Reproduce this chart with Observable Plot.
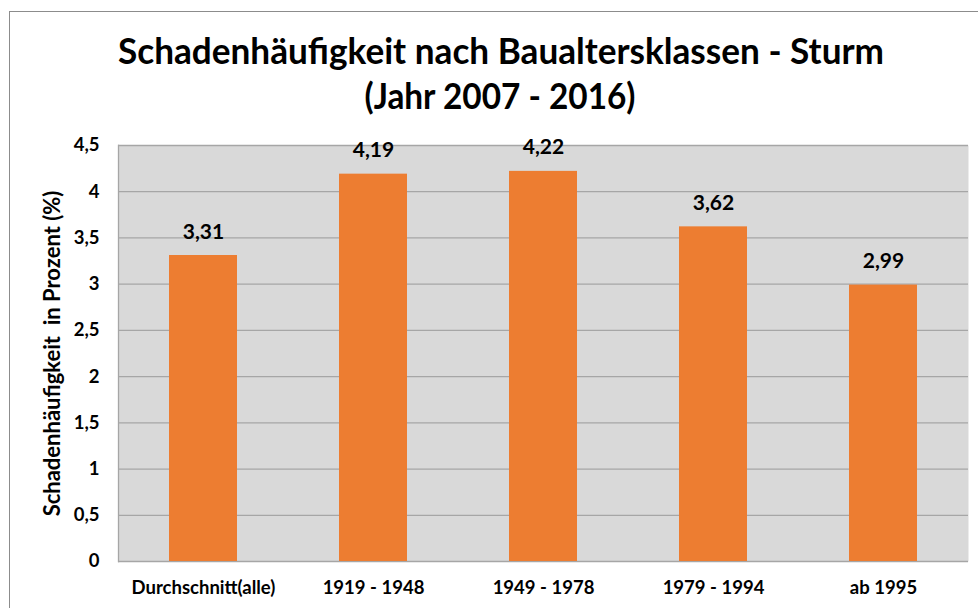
<!DOCTYPE html>
<html>
<head>
<meta charset="utf-8">
<script src="https://cdn.jsdelivr.net/npm/d3@7"></script>
<script src="https://cdn.jsdelivr.net/npm/@observablehq/plot@0.6"></script>
<style>
  html, body { margin: 0; padding: 0; background: #fff; }
  #wrap { position: relative; width: 978px; height: 608px; overflow: hidden; font-family: Lato, sans-serif; }
  #border { position: absolute; left: 9px; top: 11px; width: 1000px; height: 700px; border-left: 1.5px solid #8c8c8c; border-top: 1.5px solid #8c8c8c; box-sizing: border-box; }
  #title { position: absolute; left: 0; top: 0; }
  #chart { position: absolute; left: 0; top: 0; }
</style>
</head>
<body>
<div id="wrap">
  <div id="border"></div>
  <div id="chart"></div>
  <svg id="title" width="978" height="130"></svg>
</div>
<script>
const categories = ["Durchschnitt(alle)", "1919 - 1948", "1949 - 1978", "1979 - 1994", "ab 1995"];
const values = [3.31, 4.19, 4.22, 3.62, 2.99];
const yTicks = [0, 0.5, 1, 1.5, 2, 2.5, 3, 3.5, 4, 4.5];
const titleLines = ["Schadenhäufigkeit nach Baualtersklassen - Sturm", "(Jahr 2007 - 2016)"];
const yLabel = "Schadenhäufigkeit  in Prozent (%)";

const data = categories.map((c, i) => ({category: c, value: values[i]}));
const de = d3.formatLocale({decimal: ",", thousands: ".", grouping: [3], currency: ["", " €"]});
const fmtTick = v => de.format("~g")(v);
const fmtVal = v => de.format(".2f")(v);
const FONT = 'Lato, sans-serif';

const plot = Plot.plot({
  width: 978,
  height: 608,
  marginLeft: 118,
  marginRight: 10,
  marginTop: 145,
  marginBottom: 47,
  style: {fontFamily: FONT, background: "transparent", color: "#000"},
  x: {domain: categories, paddingInner: 0.6, paddingOuter: 0.3, label: null},
  y: {domain: [0, 4.5], label: null},
  marks: [
    Plot.frame({fill: "#d9d9d9", stroke: null}),
    Plot.gridY(yTicks, {stroke: "#a6a6a6", strokeOpacity: 1, strokeWidth: 1.3}),
    Plot.frame({anchor: "left", stroke: "#a6a6a6", strokeWidth: 1.3}),
    Plot.barY(data, {x: "category", y: "value", fill: "#ed7d31", inset: 0}),
    Plot.axisY({ticks: yTicks, tickFormat: fmtTick, tickSize: 0, tickPadding: 19, fontSize: 18.5, fontWeight: "bold", label: null}),
    Plot.axisX({tickSize: 0, tickPadding: 19, fontSize: 18.5, fontWeight: "bold", label: null}),
    Plot.text(data, {x: "category", y: "value", text: d => fmtVal(d.value), dy: -17, fontSize: 21, fontWeight: "bold", fill: "#000", lineAnchor: "bottom"}),
    Plot.text([yLabel], {frameAnchor: "left", dx: -66, rotate: -90, textAnchor: "middle", fontSize: 22, fontWeight: "bold", fill: "#000"})
  ]
});
document.getElementById("chart").appendChild(plot);

// Title as real SVG text
const t = d3.select("#title");
t.append("text").attr("x", 501).attr("y", 64).attr("text-anchor", "middle")
  .attr("font-family", FONT).attr("font-weight", "bold").attr("font-size", 37)
  .attr("textLength", 766).attr("lengthAdjust", "spacingAndGlyphs")
  .text(titleLines[0]);
t.append("text").attr("x", 500).attr("y", 109).attr("text-anchor", "middle")
  .attr("font-family", FONT).attr("font-weight", "bold").attr("font-size", 37)
  .attr("textLength", 271).attr("lengthAdjust", "spacingAndGlyphs")
  .text(titleLines[1]);
</script>
</body>
</html>
